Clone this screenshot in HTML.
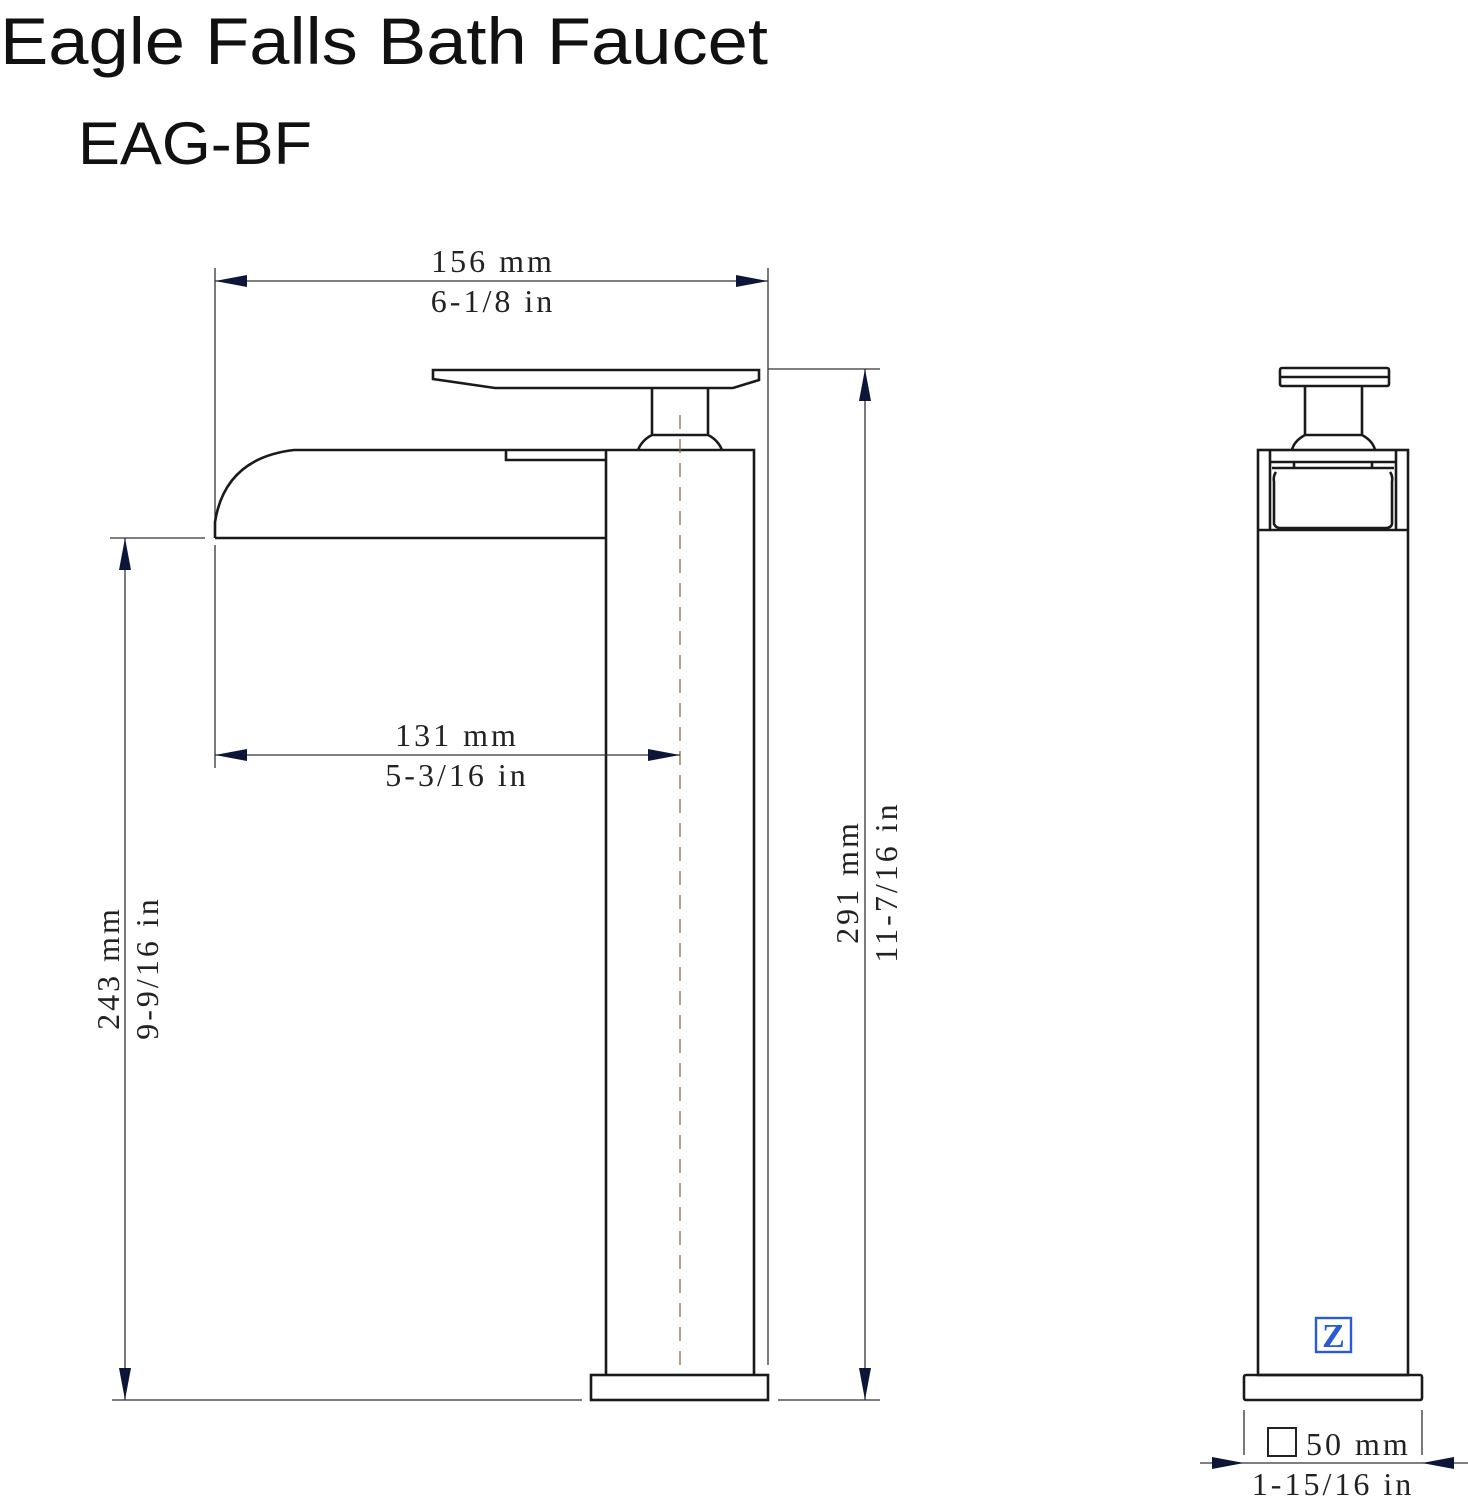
<!DOCTYPE html>
<html><head><meta charset="utf-8"><style>
html,body{margin:0;padding:0;background:#fff;}
svg{display:block;}
.t{font-family:"Liberation Sans",sans-serif;fill:#111;}
.d{font-family:"Liberation Serif",serif;fill:#222;font-size:32px;letter-spacing:3px;}
.k{stroke:#1a1a1a;stroke-width:2.6;fill:none;}
.e{stroke:#333;stroke-width:1.3;fill:none;}
.a{fill:#0b1638;}
</style></head><body>
<svg width="1468" height="1500" viewBox="0 0 1468 1500" xmlns="http://www.w3.org/2000/svg">
<text class="t" x="0" y="64" font-size="66" textLength="768" lengthAdjust="spacingAndGlyphs">Eagle Falls Bath Faucet</text>
<text class="t" x="78" y="164" font-size="60" textLength="234" lengthAdjust="spacingAndGlyphs">EAG-BF</text>

<line class="e" x1="215" y1="268" x2="215" y2="530"/>
<line class="e" x1="768" y1="268" x2="768" y2="1365"/>
<line class="e" x1="215" y1="281" x2="768" y2="281"/>
<polygon class="a" points="215,281 247,275 247,287"/>
<polygon class="a" points="768,281 736,275 736,287"/>
<text class="d" x="493" y="272" text-anchor="middle">156 mm</text>
<text class="d" x="493" y="312" text-anchor="middle">6-1/8 in</text>

<path class="k" d="M433,370 L759,370 L759,380 L733,388 L495,388 L433,379 Z"/>
<path class="k" d="M652,388 L652,435 M708,388 L708,435 M652,435 L708,435 M652,435 Q642,440 638,450 M708,435 Q718,440 722,450"/>
<path class="k" d="M215,538 L215,522 Q225,458 294,450 L754,450 L754,1375 M606,450 L606,1375 M215,538 L606,538 M506,450 L506,460 L606,460"/>
<rect class="k" x="591" y="1375" width="177" height="25"/>
<line x1="680" y1="415" x2="680" y2="1375" stroke="#8a6a4a" stroke-width="1.3" stroke-dasharray="14,10"/>

<line class="e" x1="215" y1="545" x2="215" y2="768"/>
<line class="e" x1="215" y1="755" x2="680" y2="755"/>
<polygon class="a" points="215,755 247,749 247,761"/>
<polygon class="a" points="680,755 648,749 648,761"/>
<text class="d" x="457" y="746" text-anchor="middle">131 mm</text>
<text class="d" x="457" y="786" text-anchor="middle">5-3/16 in</text>

<line class="e" x1="768" y1="369" x2="880" y2="369"/>
<line class="e" x1="778" y1="1400" x2="880" y2="1400"/>
<line class="e" x1="865" y1="369" x2="865" y2="1400"/>
<polygon class="a" points="865,369 859,401 871,401"/>
<polygon class="a" points="865,1400 859,1368 871,1368"/>
<text class="d" transform="translate(858,882) rotate(-90)" text-anchor="middle">291 mm</text>
<text class="d" transform="translate(897,882) rotate(-90)" text-anchor="middle">11-7/16 in</text>

<line class="e" x1="110" y1="538" x2="205" y2="538"/>
<line class="e" x1="112" y1="1400" x2="582" y2="1400"/>
<line class="e" x1="125" y1="538" x2="125" y2="1400"/>
<polygon class="a" points="125,538 119,570 131,570"/>
<polygon class="a" points="125,1400 119,1368 131,1368"/>
<text class="d" transform="translate(119,968) rotate(-90)" text-anchor="middle">243 mm</text>
<text class="d" transform="translate(158,968) rotate(-90)" text-anchor="middle">9-9/16 in</text>

<rect class="k" x="1280" y="368" width="109" height="18" rx="2"/>
<line class="k" x1="1280" y1="377" x2="1389" y2="377"/>
<path class="k" d="M1305,386 L1305,435 M1362,386 L1362,435 M1305,435 L1362,435 M1305,435 Q1294,441 1292,450 M1362,435 Q1373,441 1375,450"/>
<rect class="k" x="1258" y="450" width="150" height="925"/>
<path class="k" d="M1270,450 L1270,530 M1396,450 L1396,530 M1270,462 L1396,462 M1258,530 L1408,530"/>
<path class="k" d="M1272,468 L1394,468 M1276,472 Q1273,476 1274,482 L1274,524 Q1276,528 1280,528 L1386,528 Q1391,528 1392,524 L1392,482 Q1393,476 1390,472"/>
<line class="k" x1="1294" y1="462" x2="1294" y2="468"/>
<line class="k" x1="1372" y1="462" x2="1372" y2="468"/>
<rect class="k" x="1244" y="1375" width="178" height="25" rx="2"/>
<rect x="1316" y="1318" width="35" height="34" fill="none" stroke="#2a5bd7" stroke-width="2.4"/>
<text x="1333.5" y="1347" font-family="Liberation Serif,serif" font-size="34" fill="#2a5bd7" text-anchor="middle" font-weight="bold">Z</text>
<line class="e" x1="1244" y1="1410" x2="1244" y2="1455"/>
<line class="e" x1="1422" y1="1410" x2="1422" y2="1455"/>
<line class="e" x1="1200" y1="1463" x2="1468" y2="1463"/>
<polygon class="a" points="1244,1463 1212,1457 1212,1469"/>
<polygon class="a" points="1422,1463 1454,1457 1454,1469"/>
<rect x="1268" y="1428" width="28" height="28" fill="none" stroke="#222" stroke-width="2"/>
<text class="d" x="1306" y="1455">50 mm</text>
<text class="d" x="1333" y="1495" text-anchor="middle">1-15/16 in</text>
</svg>
</body></html>
